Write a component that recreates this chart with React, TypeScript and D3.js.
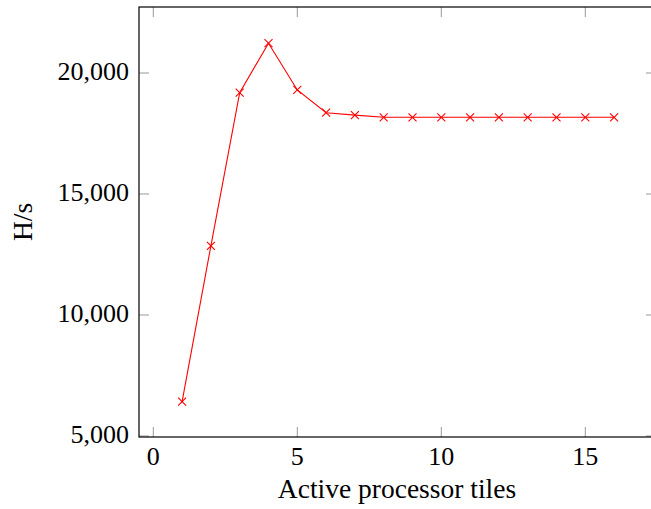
import React from "react";
import * as d3 from "d3";

const tiles = [1, 2, 3, 4, 5, 6, 7, 8, 9, 10, 11, 12, 13, 14, 15, 16];
const hashRate = [6420, 12860, 19190, 21230, 19300, 18360, 18260, 18170, 18170, 18170, 18170, 18170, 18170, 18170, 18170, 18170];
const xTicks = [0, 5, 10, 15];
const yTicks = [5000, 10000, 15000, 20000];

const W = 651;
const H = 509;
const left = 139;
const right = 656;
const top = 7;
const bottom = 437;

export default function App() {
  const x = d3.scaleLinear().domain([0, 15]).range([153.3, 585.3]);
  const y = d3.scaleLinear().domain([5000, 20000]).range([436, 73]);
  const line = d3
    .line<number>()
    .x((_, i) => x(tiles[i]))
    .y((d) => y(d));
  const font = "'Liberation Serif', 'Times New Roman', serif";
  const tickLen = 10;
  const m = 4;
  return (
    <svg
      width={W}
      height={H}
      style={{ position: "absolute", left: 0, top: 0, background: "#fff" }}
    >
      {/* ticks */}
      {xTicks.map((t) => (
        <g key={"xt" + t}>
          <line x1={x(t)} x2={x(t)} y1={bottom} y2={bottom - tickLen} stroke="#999" strokeWidth={1} />
          <line x1={x(t)} x2={x(t)} y1={top} y2={top + tickLen} stroke="#999" strokeWidth={1} />
          <text x={x(t)} y={465} textAnchor="middle" fontFamily={font} fontSize={26} fill="#000">
            {t}
          </text>
        </g>
      ))}
      {yTicks.map((t) => (
        <g key={"yt" + t}>
          <line x1={left} x2={left + tickLen} y1={y(t)} y2={y(t)} stroke="#999" strokeWidth={1} />
          <line x1={right} x2={right - tickLen} y1={y(t)} y2={y(t)} stroke="#999" strokeWidth={1} />
          <text x={129} y={y(t) + 6.5} textAnchor="end" fontFamily={font} fontSize={26} fill="#000">
            {d3.format(",")(t)}
          </text>
        </g>
      ))}
      {/* frame */}
      <rect x={left} y={top} width={right - left} height={bottom - top} fill="none" stroke="#000" strokeWidth={1.2} />
      {/* series */}
      <path d={line(hashRate) || ""} fill="none" stroke="#ff0000" strokeWidth={1.1} />
      {hashRate.map((v, i) => (
        <g key={"m" + i} stroke="#ff0000" strokeWidth={1.1}>
          <line x1={x(tiles[i]) - m} x2={x(tiles[i]) + m} y1={y(v) - m} y2={y(v) + m} />
          <line x1={x(tiles[i]) - m} x2={x(tiles[i]) + m} y1={y(v) + m} y2={y(v) - m} />
        </g>
      ))}
      {/* labels */}
      <text x={397} y={498} textAnchor="middle" fontFamily={font} fontSize={27.5} fill="#000">
        Active processor tiles
      </text>
      <text
        transform={`translate(32,222) rotate(-90)`}
        textAnchor="middle"
        fontFamily={font}
        fontSize={27.5}
        fill="#000"
      >
        H/s
      </text>
    </svg>
  );
}
